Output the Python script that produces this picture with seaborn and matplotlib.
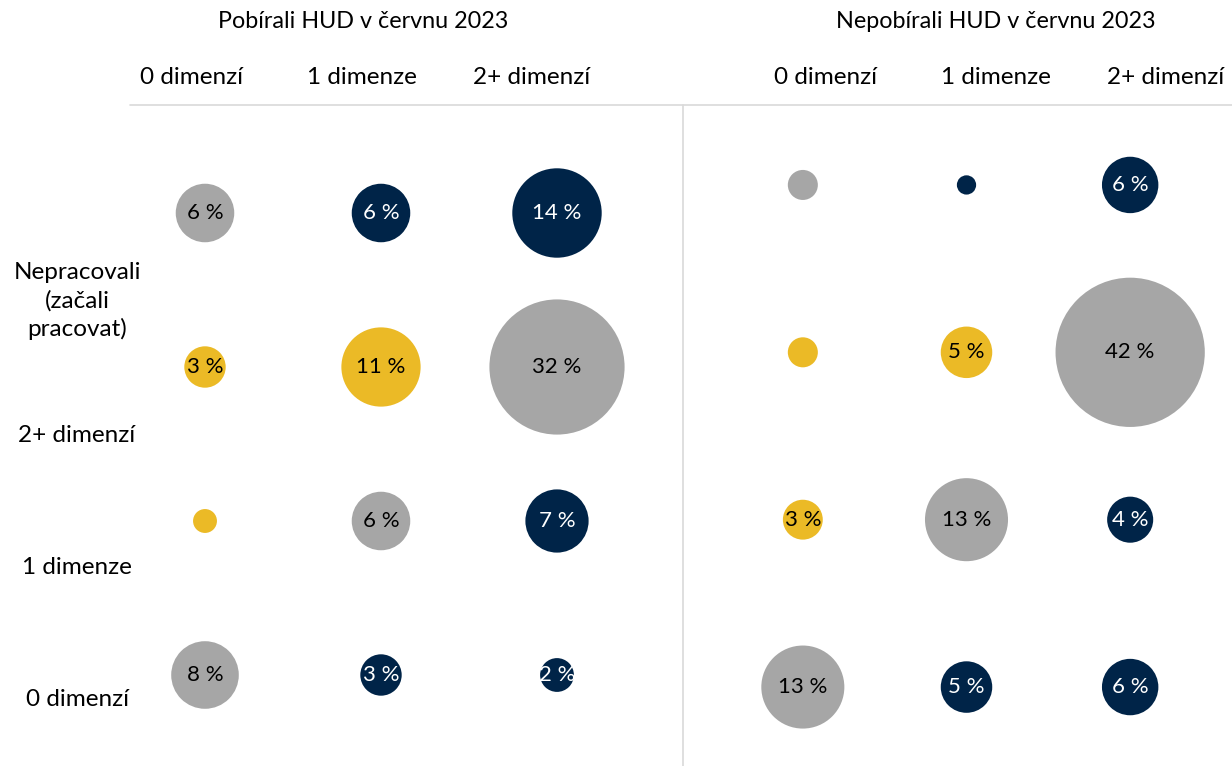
import pandas as pd
import seaborn as sns
import matplotlib.pyplot as plt
from matplotlib.lines import Line2D

# data (percent of people in each cell)
radky = ["Nepracovali", "2+ dimenzí", "1 dimenze", "0 dimenzí"]
sloupce = ["0 dimenzí", "1 dimenze", "2+ dimenzí"]
pobirali = [[6, 6, 14],
            [3, 11, 32],
            [1, 6, 7],
            [8, 3, 2]]
nepobirali = [[1.7, 0.7, 6],
              [1.7, 5, 42],
              [3, 13, 4],
              [13, 5, 6]]
zmena = [["beze změny", "zhoršení", "zhoršení"],
         ["zlepšení", "zlepšení", "beze změny"],
         ["zlepšení", "beze změny", "zhoršení"],
         ["beze změny", "zhoršení", "zhoršení"]]
titulky = ["Pobírali HUD v červnu 2023", "Nepobírali HUD v červnu 2023"]
popisky_radku = ["Nepracovali\n(začali\npracovat)", "2+ dimenzí", "1 dimenze", "0 dimenzí"]

barvy = {"beze změny": "#a6a6a6", "zhoršení": "#002448", "zlepšení": "#ebba26"}
barvy_textu = {"beze změny": "black", "zhoršení": "white", "zlepšení": "black"}


def tabulka(hodnoty):
    rows = []
    for i, r in enumerate(radky):
        for j, s in enumerate(sloupce):
            rows.append({"radek": r, "sloupec": s, "podil": hodnoty[i][j], "zmena": zmena[i][j]})
    return pd.DataFrame(rows)


sns.set_theme(style="white")
plt.rcParams['font.family'] = ['Lato', 'DejaVu Sans']
plt.rcParams['text.color'] = 'black'

W, H = 1232, 766
fig = plt.figure(figsize=(W / 100, H / 100), dpi=100)

# axes boxes in pixels: (left, top, right, bottom), ylim, area per percent
boxes = [((117, 136, 645, 752), (3.5, -0.5), 296),
         ((721, 118, 1212, 754), (3.4, -0.4), 275)]

for hodnoty, (box, ylim, plocha) in zip([pobirali, nepobirali], boxes):
    l, t, r, b = box
    ax = fig.add_axes([l / W, 1 - b / H, (r - l) / W, (b - t) / H])
    df = tabulka(hodnoty)
    sns.scatterplot(data=df, x="sloupec", y="radek", size="podil", hue="zmena",
                    palette=barvy, sizes=(0, plocha * 45), size_norm=(0, 45),
                    legend=False, linewidth=0, ax=ax, clip_on=False)
    ax.set_xlim(-0.5, 2.5)
    ax.set_ylim(*ylim)
    ax.axis("off")
    for _, row in df.iterrows():
        if row["podil"] >= 2:
            ax.text(sloupce.index(row["sloupec"]), radky.index(row["radek"]),
                    f"{row['podil']:g} %", ha="center", va="center",
                    fontsize=16, color=barvy_textu[row["zmena"]])

# titles and column headers
for tit, x0 in zip(titulky, [363, 996]):
    fig.text(x0 / W, 1 - 22 / H, tit, ha="center", va="center", fontsize=16.8)
for x0 in [192, 826]:
    for j, s in enumerate(sloupce):
        fig.text((x0 + j * 170) / W, 1 - 78 / H, s, ha="center", va="center", fontsize=17.5)

# row labels
for txt, y0 in zip(popisky_radku, [301, 435, 567, 700]):
    fig.text(77 / W, 1 - y0 / H, txt, ha="center", va="center", fontsize=17.5, linespacing=1.35)

# separator lines
fig.add_artist(Line2D([130 / W, 1], [1 - 105 / H, 1 - 105 / H], color="#d9d9d9", lw=1.2))
fig.add_artist(Line2D([683 / W, 683 / W], [1 - 105 / H, 0], color="#d9d9d9", lw=1.2))

fig.savefig("out.png", dpi=100)
